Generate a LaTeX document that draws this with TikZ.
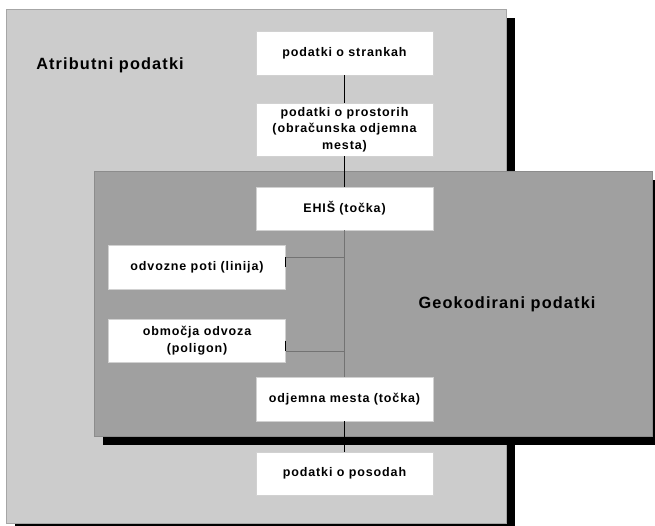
\documentclass[tikz,border=0pt]{standalone}
\usepackage{fontspec}
\setmainfont{Liberation Sans}[LetterSpace=7]
\usepackage{tikz}

\definecolor{svetlosiva}{HTML}{CCCCCC}
\definecolor{temnosiva}{HTML}{A0A0A0}

\begin{document}
\begin{tikzpicture}[x=1pt, y=-1pt,
    okvir/.style={fill=white, draw=black!18, line width=0.5pt, inner sep=0pt,
      minimum width=177pt, align=center,
      font=\bfseries\fontsize{12.5}{16.5}\selectfont},
    oznaka/.style={font=\bfseries\fontsize{16.3}{19}\selectfont},
    povezava/.style={line width=0.6pt}]

  \useasboundingbox (0,0) rectangle (655,526);

  % ---- background areas with their black shadows ----
  \fill[black] (15,18) rectangle (515,532);
  \filldraw[fill=svetlosiva, draw=black!35, line width=0.5pt] (6,9) rectangle (506,523);
  \fill[black] (103,180) rectangle (661,445);
  \filldraw[fill=temnosiva, draw=black!45, line width=0.5pt] (94,171) rectangle (652,436);

  \node[oznaka] (atributni) at (110,65) {Atributni podatki};
  \node[oznaka] (geokodirani) at (507,304) {Geokodirani podatki};

  % ---- boxes: {name / x / y / height / label} ----
  \foreach \nm/\xx/\yy/\hh/\lab in {
      strankah/344.5/53/44/{podatki o strankah},
      prostori/344.5/129.5/53/{podatki o prostorih\\(obračunska odjemna\\mesta)},
      ehis/344.5/208.5/43/{EHIŠ (točka)},
      poti/197/267/44/{odvozne poti (linija)},
      obmocja/197/340.5/43/{območja odvoza\\(poligon)},
      odjemna/344.5/399/44/{odjemna mesta (točka)},
      posode/344.5/473.5/43/{podatki o posodah}} {
    \node[okvir, minimum height=\hh pt] (\nm) at (\xx,\yy) {\lab};
  }

  % ---- main trunk ----
  \foreach \a/\b/\bar in {strankah/prostori/black, prostori/ehis/black,
                          ehis/odjemna/black!55, odjemna/posode/black} {
    \draw[povezava, \bar] (\a.south) -- (\b.north);
  }

  % ---- branches to the trunk ----
  \coordinate (j1) at (344.5,257);
  \coordinate (j2) at (344.5,351);
  \foreach \nm/\j in {poti/j1, obmocja/j2} {
    \draw[povezava] (\nm.east) -- (\nm.east |- \j);
    \draw[povezava, black!55] (\nm.east |- \j) -- (\j);
  }

\end{tikzpicture}
\end{document}
